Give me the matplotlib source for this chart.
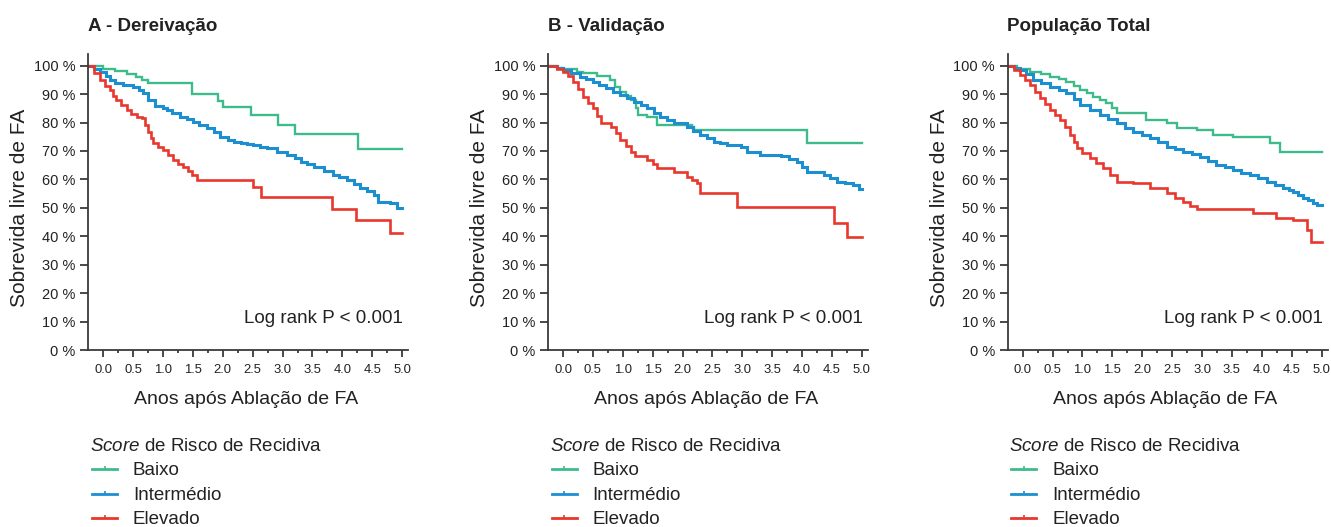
import matplotlib
matplotlib.use("Agg")
import matplotlib.pyplot as plt
from matplotlib.lines import Line2D
from matplotlib.ticker import MultipleLocator, FixedLocator

plt.rcParams['font.family'] = ['Liberation Sans', 'DejaVu Sans']
plt.rcParams['mathtext.fontset'] = 'custom'
plt.rcParams['mathtext.it'] = 'Liberation Sans:italic'
plt.rcParams['mathtext.rm'] = 'Liberation Sans'

titles = ['A - Dereivação', 'B - Validação', 'População Total']
groups = ['Baixo', 'Intermédio', 'Elevado']
colors = ['#3dbb8b', '#1b8fd0', '#e8372c']
widths = [1.7, 2.2, 1.9]

# Kaplan-Meier estimates (years, % free of AF), one list pair per risk group
a_low_t = [-0.25, 0.0, 0.2, 0.4, 0.55, 0.65, 0.75, 1.49, 1.92, 2.0, 2.47, 2.92, 3.21, 4.26, 5.0]
a_low_s = [100, 99, 98, 97, 96, 95, 94, 90, 87.5, 85.6, 82.7, 79.1, 75.8, 70.6, 70.6]
a_mid_t = [-0.25, -0.15, -0.05, 0.05, 0.11, 0.2, 0.33, 0.5, 0.6, 0.67,
           0.75, 0.87, 1.0, 1.06, 1.15, 1.28, 1.4, 1.5, 1.6, 1.73,
           1.85, 1.96, 2.08, 2.18, 2.3, 2.4, 2.51, 2.62, 2.74, 2.9,
           3.07, 3.2, 3.3, 3.4, 3.52, 3.7, 3.85, 3.95, 4.08, 4.2,
           4.3, 4.42, 4.53, 4.6, 4.7, 4.8, 4.92, 5.0]
a_mid_s = [100, 99, 97.9, 96.5, 95, 94, 93.2, 92.4, 91.5, 90.3,
           88, 85.8, 85, 84.4, 83.3, 82.1, 81.2, 80.3, 79.2, 78,
           76.5, 75, 74, 73.3, 72.8, 72.4, 72.1, 71.5, 70.9, 69.8,
           68.6, 67.4, 66.2, 65.4, 64.5, 63, 61.6, 60.8, 59.8, 58.4,
           56.9, 55.8, 54.5, 52.2, 52, 51.6, 49.8, 49.8]
a_high_t = [-0.25, -0.15, -0.05, 0.03, 0.11, 0.17, 0.22, 0.3, 0.39, 0.47,
            0.56, 0.64, 0.7, 0.75, 0.8, 0.83, 0.92, 1.0, 1.08, 1.17,
            1.25, 1.34, 1.42, 1.48, 1.57, 2.51, 2.63, 3.83, 4.22, 4.8, 5.0]
a_high_s = [100, 97.5, 95, 93, 91.4, 89.5, 87.9, 86, 84.4, 83,
            82.1, 81.5, 79, 76.8, 74.5, 72.7, 71.5, 70.3, 68.5, 66.8,
            65.5, 64.5, 63, 61.6, 59.8, 57.4, 53.7, 49.5, 45.7, 41, 41]

b_low_t = [-0.25, -0.1, 0.0, 0.23, 0.34, 0.57, 0.79, 0.87, 0.96, 1.05,
           1.13, 1.22, 1.26, 1.41, 1.57, 2.16, 2.19, 4.08, 5.0]
b_low_s = [100, 99.3, 98.7, 97.9, 97.3, 96.4, 95, 92.6, 90.9, 89.5,
           87.9, 85, 82.7, 82.1, 79.1, 78.3, 77.4, 72.9, 72.9]
b_mid_t = [-0.25, -0.1, 0.0, 0.14, 0.28, 0.39, 0.5, 0.61, 0.72, 0.84,
           0.96, 1.07, 1.18, 1.3, 1.41, 1.52, 1.63, 1.74, 1.85, 2.07,
           2.18, 2.3, 2.41, 2.52, 2.63, 2.74, 2.97, 3.08, 3.3, 3.64,
           3.78, 3.91, 4.0, 4.08, 4.36, 4.47, 4.58, 4.72, 4.86, 4.95, 5.0]
b_mid_s = [100, 99.3, 98.5, 97.3, 96.1, 95.2, 94.4, 93.2, 92, 90.8,
           89.7, 88.5, 87.3, 86.1, 85, 83.5, 82.1, 80.9, 79.7, 78.5,
           77, 75.6, 74.5, 73.3, 72.7, 72.1, 71.5, 69.8, 68.6, 68.2,
           67.2, 66.2, 64.5, 62.7, 61.6, 60.4, 59.2, 58.6, 58, 56.5, 56.5]
b_high_t = [-0.25, -0.1, 0.0, 0.08, 0.17, 0.25, 0.34, 0.42, 0.5, 0.57,
            0.64, 0.81, 0.88, 0.96, 1.05, 1.13, 1.2, 1.41, 1.5, 1.57,
            1.85, 2.07, 2.16, 2.24, 2.3, 2.91, 4.53, 4.75, 5.0]
b_high_s = [100, 99, 97.9, 96.2, 94.4, 91.8, 89.1, 87, 85, 82.3,
            79.7, 78.5, 76.2, 73.9, 71.8, 69.8, 68.2, 66.8, 65.3, 63.9,
            62.7, 61, 59.8, 58.6, 55.1, 50.4, 44.8, 39.6, 39.6]

c_low_t = [-0.25, -0.1, 0.12, 0.3, 0.46, 0.6, 0.73, 0.85, 0.96, 1.07,
           1.18, 1.3, 1.4, 1.5, 1.57, 2.07, 2.41, 2.58, 2.91, 3.19,
           3.52, 4.13, 4.3, 5.0]
c_low_s = [100, 99, 97.9, 97, 96.1, 95.3, 94.4, 92.9, 91.4, 90.3,
           89.1, 88, 86.8, 85, 83.3, 80.9, 79.7, 78, 77.4, 75.6,
           74.8, 72.7, 69.8, 69.8]
c_mid_t = [-0.25, -0.15, -0.05, 0.06, 0.17, 0.3, 0.46, 0.6, 0.73, 0.85,
           0.96, 1.12, 1.29, 1.43, 1.57, 1.71, 1.85, 1.99, 2.13, 2.27,
           2.41, 2.55, 2.69, 2.83, 2.97, 3.1, 3.24, 3.38, 3.52, 3.66,
           3.8, 3.94, 4.08, 4.22, 4.36, 4.45, 4.53, 4.61, 4.69, 4.78,
           4.86, 4.93, 5.0]
c_mid_s = [100, 99.3, 98.5, 97, 95, 93.9, 92.6, 91.4, 90.3, 88.3,
           86.2, 84.5, 82.7, 81.2, 79.7, 78.2, 76.8, 75.6, 74.5, 73,
           71.5, 70.6, 69.8, 69, 68, 66.5, 65.1, 64.2, 63.3, 62.4,
           61.6, 60.4, 59.2, 58, 56.9, 56.3, 55.7, 54.5, 53.4, 52.6,
           51.8, 51, 51]
c_high_t = [-0.25, -0.15, -0.05, 0.03, 0.12, 0.2, 0.29, 0.37, 0.46, 0.54,
            0.62, 0.7, 0.79, 0.85, 0.9, 1.0, 1.12, 1.23, 1.35, 1.46,
            1.57, 1.85, 2.13, 2.41, 2.55, 2.69, 2.8, 2.91, 3.85, 4.24,
            4.53, 4.75, 4.83, 5.0]
c_high_s = [100, 98.5, 96.7, 95, 93.2, 90.8, 88.5, 86.5, 84.4, 82.6,
            80.9, 78.3, 75.6, 73.2, 70.9, 69.2, 67.4, 65.6, 63.9, 61.5,
            59.2, 58.6, 56.9, 55.1, 53.6, 52.2, 50.8, 49.5, 48.1, 46.3,
            45.7, 42.2, 38.1, 38.1]

panels = [
    [(a_low_t, a_low_s), (a_mid_t, a_mid_s), (a_high_t, a_high_s)],
    [(b_low_t, b_low_s), (b_mid_t, b_mid_s), (b_high_t, b_high_s)],
    [(c_low_t, c_low_s), (c_mid_t, c_mid_s), (c_high_t, c_high_s)],
]

W, H = 1331, 527
fig = plt.figure(figsize=(W / 100, H / 100), dpi=100)


def fx(px):
    return px / W


def fy(py):
    return 1 - py / H


txt = '#222222'
axc = '#3a3a3a'
step = 459.7

for i, (title, curves) in enumerate(zip(titles, panels)):
    dx = i * step
    ax = fig.add_axes([fx(88.4 + dx), fy(350), 319.7 / W, 295.7 / H])
    for (t, s), c, lw in zip(curves, colors, widths):
        ax.step(t, s, where='post', color=c, lw=lw, solid_joinstyle='miter')
    ax.set_xlim(-0.25, 5.1)
    ax.set_ylim(0, 104)
    for side in ['top', 'right']:
        ax.spines[side].set_visible(False)
    for side in ['left', 'bottom']:
        ax.spines[side].set_color(axc)
        ax.spines[side].set_linewidth(1.3)
    ax.set_yticks(range(0, 101, 10))
    ax.set_yticklabels([f'{v} %' for v in range(0, 101, 10)])
    ax.set_xticks([k * 0.5 for k in range(11)])
    ax.set_xticklabels([f'{k * 0.5:.1f}' for k in range(11)])
    ax.xaxis.set_minor_locator(FixedLocator([0.25 + k * 0.5 for k in range(10)]))
    ax.tick_params(axis='y', length=6, width=1.3, pad=3.3, color=axc,
                   labelsize=10.5, labelcolor=txt)
    ax.tick_params(axis='x', which='major', length=4.8, width=1.3, pad=5,
                   color=axc, labelsize=9.4, labelcolor=txt)
    ax.tick_params(axis='x', which='minor', length=2.2, width=1.3, color=axc)
    ax.patch.set_alpha(0)

    fig.text(fx(88.0 + dx), fy(30.7), title, fontsize=13.5, fontweight='bold',
             color=txt, ha='left', va='baseline')
    fig.text(fx(20 + dx), fy(207.5), 'Sobrevida livre de FA', fontsize=15,
             rotation=90, color=txt, ha='center', va='center')
    fig.text(fx(403 + dx), fy(322.7), 'Log rank P < 0.001', fontsize=13.5,
             color=txt, ha='right', va='baseline')
    fig.text(fx(246 + dx), fy(404), 'Anos após Ablação de FA', fontsize=14,
             color=txt, ha='center', va='baseline')

    # legend block under each panel
    fig.text(fx(90 + dx), fy(450.7), r'$\it{Score}$ de Risco de Recidiva',
             fontsize=13.5, color=txt, ha='left', va='baseline')
    for j, (name, c) in enumerate(zip(groups, colors)):
        ly = 469.3 + j * 24.5
        fig.add_artist(Line2D([fx(92 + dx), fx(117 + dx)], [fy(ly), fy(ly)],
                              color=c, lw=2.0))
        fig.add_artist(Line2D([fx(104.5 + dx)], [fy(ly - 1)], color=c,
                              marker='|', markersize=3, mew=1.2))
        fig.text(fx(133 + dx), fy(ly + 5.7), name, fontsize=13.5, color=txt,
                 ha='left', va='baseline')

fig.savefig('out.png', dpi=100)
